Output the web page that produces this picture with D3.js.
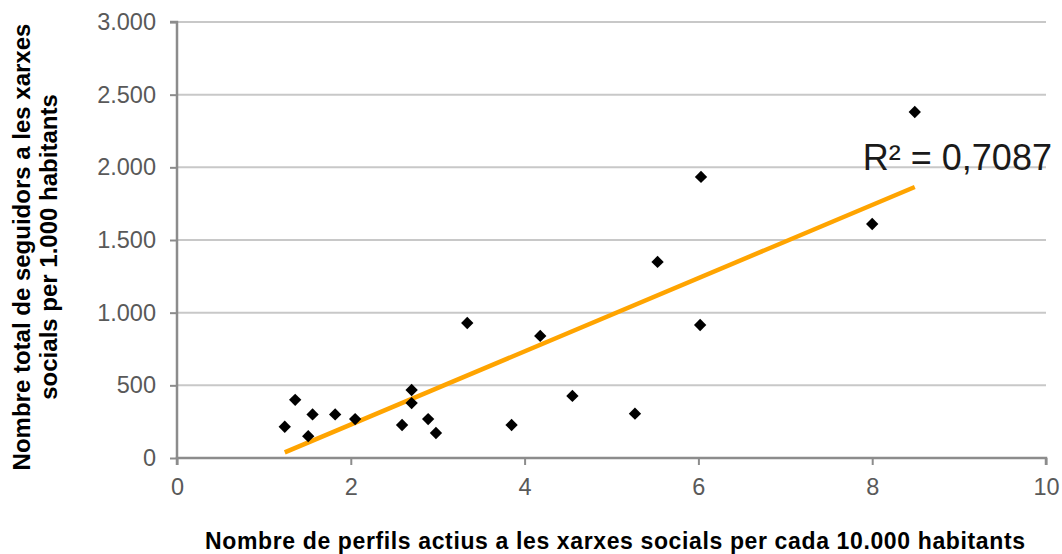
<!DOCTYPE html>
<html><head><meta charset="utf-8">
<script src="https://cdn.jsdelivr.net/npm/d3@7"></script>
<style>body{margin:0;background:#fff;}svg{display:block;font-family:"Liberation Sans",Arial,sans-serif;}</style>
</head><body><svg id="c" width="1062" height="554"></svg>
<script>
const perfils = [1.24,1.36,1.51,1.56,1.82,2.05,2.59,2.70,2.70,2.89,2.98,3.34,3.85,4.18,4.55,5.27,5.53,6.02,6.03,8.00,8.49];
const seguidors = [215,400,150,300,300,268,227,468,378,268,172,929,227,840,427,305,1349,915,1934,1610,2381];
const xTicks = [0,2,4,6,8,10];
const yTicks = [0,500,1000,1500,2000,2500,3000];
const r2Label = "R² = 0,7087";
const xTitle = "Nombre de perfils actius a les xarxes socials per cada 10.000 habitants";
const yTitle = ["Nombre total de seguidors a les xarxes","socials per 1.000 habitants"];

const svg = d3.select("#c");
const L=177,R=1046,T=22,B=458;
const x = d3.scaleLinear().domain([0,10]).range([L,R]);
const y = d3.scaleLinear().domain([0,3000]).range([B,T]);
const fmt = d3.formatLocale({decimal:",",thousands:".",grouping:[3],currency:["","€"]}).format(",d");

// gridlines
svg.append("g").selectAll("line").data(yTicks.filter(d=>d>0)).join("line")
  .attr("x1",L).attr("x2",R).attr("y1",d=>y(d)).attr("y2",d=>y(d))
  .attr("stroke","#c8c8c8").attr("stroke-width",2);

// y axis
const ya = svg.append("g").attr("transform",`translate(${L},0)`)
  .call(d3.axisLeft(y).tickValues(yTicks).tickFormat(fmt).tickSize(7).tickPadding(14));
ya.select(".domain").attr("stroke","#8c8c8c").attr("stroke-width",2.5).attr("d",`M-7,${T}H0V${B}`);
ya.selectAll(".tick line").attr("stroke","#8c8c8c").attr("stroke-width",2);
ya.selectAll(".tick text").attr("font-size",23.5).attr("fill","#595959").attr("font-family","Liberation Sans, Arial, sans-serif");

// x axis
const xa = svg.append("g").attr("transform",`translate(0,${B})`)
  .call(d3.axisBottom(x).tickValues(xTicks).tickFormat(d3.format("d")).tickSize(7).tickPadding(13));
xa.select(".domain").attr("stroke","#8c8c8c").attr("stroke-width",2.5).attr("d",`M${L},7V0H${R}V7`);
xa.selectAll(".tick line").attr("stroke","#8c8c8c").attr("stroke-width",2);
xa.selectAll(".tick text").attr("font-size",23.5).attr("fill","#595959").attr("font-family","Liberation Sans, Arial, sans-serif");

// trendline (least squares)
const n = perfils.length;
const mx = d3.mean(perfils), my = d3.mean(seguidors);
let sxy=0,sxx=0;
for(let i=0;i<n;i++){sxy+=(perfils[i]-mx)*(seguidors[i]-my);sxx+=(perfils[i]-mx)**2;}
const slope = sxy/sxx, icpt = my-slope*mx;
const ext = d3.extent(perfils);
svg.append("line")
  .attr("x1",x(ext[0])).attr("y1",y(icpt+slope*ext[0]))
  .attr("x2",x(ext[1])).attr("y2",y(icpt+slope*ext[1]))
  .attr("stroke","#FFA400").attr("stroke-width",4.5);

// points
const sym = d3.symbol().type(d3.symbolSquare).size(76);
svg.append("g").selectAll("path").data(perfils.map((v,i)=>[v,seguidors[i]])).join("path")
  .attr("d",sym).attr("fill","#000")
  .attr("transform",d=>`translate(${x(d[0])},${y(d[1])}) rotate(45)`);

// R2 label
svg.append("text").attr("x",x(8.52)+40).attr("y",170).attr("text-anchor","middle")
  .attr("font-size",36).attr("fill","#1a1a1a").text(r2Label);

// titles
svg.append("text").attr("x",205).attr("y",549).attr("text-anchor","start")
  .attr("font-size",23).attr("font-weight","bold").attr("fill","#000")
  .attr("textLength",820).attr("lengthAdjust","spacing").text(xTitle);
const yt = svg.append("text").attr("transform","translate(0,247) rotate(-90)")
  .attr("text-anchor","middle").attr("font-size",24).attr("font-weight","bold").attr("fill","#000");
yt.append("tspan").attr("x",0).attr("y",30).text(yTitle[0]);
yt.append("tspan").attr("x",0).attr("y",57).text(yTitle[1]);
</script></body></html>
